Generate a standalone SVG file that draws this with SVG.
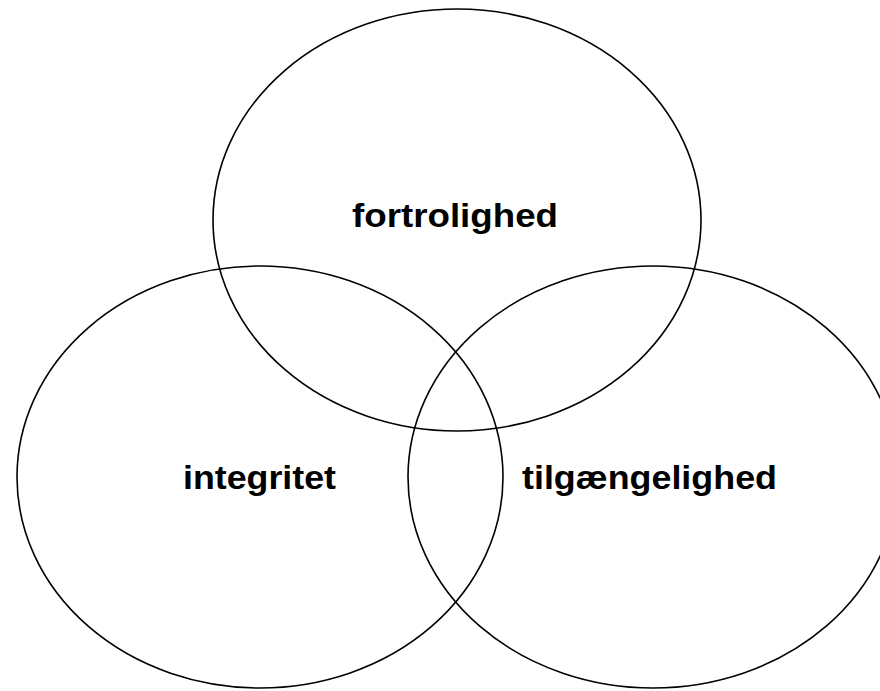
<svg xmlns="http://www.w3.org/2000/svg" width="880" height="691" viewBox="0 0 880 691">
<style>
.c{fill:none;stroke:#000;stroke-width:1.6}
.t{font-family:"Liberation Sans",Arial,Helvetica,sans-serif;font-weight:bold;font-size:34px;text-anchor:middle;fill:#000}
</style>
<rect width="880" height="691" fill="#fff"/>
<g id="fortrolighed">
<ellipse class="c" cx="457" cy="220" rx="244" ry="211"/>
<text class="t" x="455" y="227" textLength="206" lengthAdjust="spacingAndGlyphs">fortrolighed</text>
</g>
<g id="integritet">
<ellipse class="c" cx="260" cy="477" rx="243" ry="211"/>
<text class="t" x="259.5" y="489" textLength="153" lengthAdjust="spacingAndGlyphs">integritet</text>
</g>
<g id="tilgaengelighed">
<ellipse class="c" cx="653" cy="477" rx="245" ry="211"/>
<text class="t" x="649.5" y="489" textLength="255" lengthAdjust="spacingAndGlyphs">tilgængelighed</text>
</g>
<g id="connectors"/>
</svg>
